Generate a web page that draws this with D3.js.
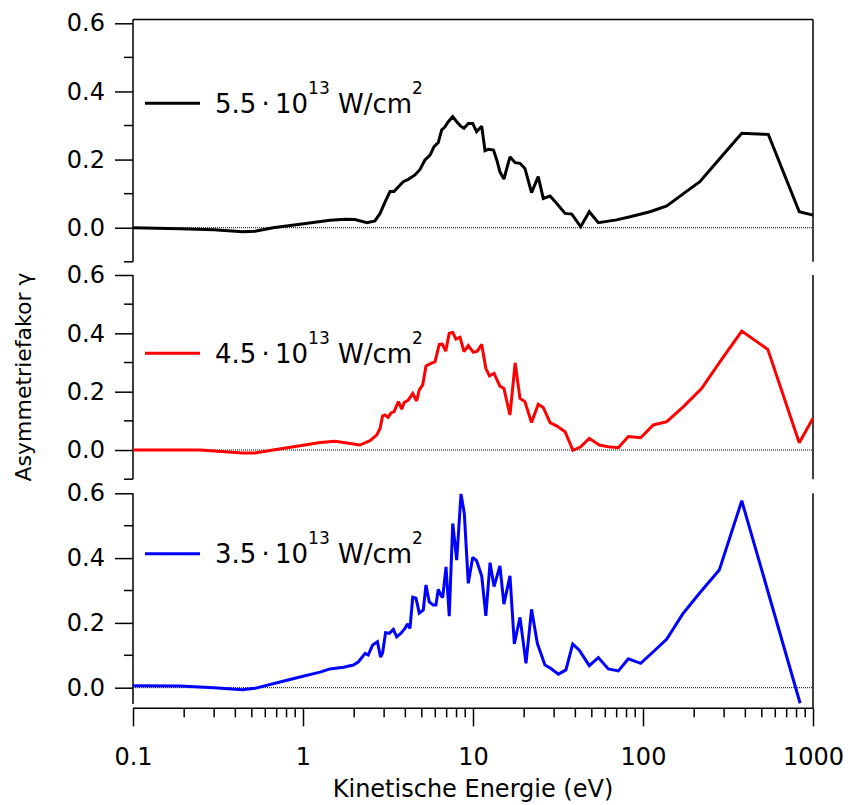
<!DOCTYPE html>
<html>
<head>
<meta charset="utf-8">
<script src="https://cdn.jsdelivr.net/npm/d3@7"></script>
<style>
  html, body { margin: 0; padding: 0; background: #fff; }
  svg { display: block; font-family: "DejaVu Sans", sans-serif; }
</style>
</head>
<body>
<svg id="chart" width="850" height="805"></svg>
<script>
// ---------- data: [kinetic energy (eV), asymmetry gamma] ----------
const series55 = [
  [0.1,0],[0.189,-0.003],[0.30,-0.006],[0.44,-0.012],[0.522,-0.01],[0.666,0],[0.96,0.01],
  [1.44,0.022],[1.77,0.025],[2.02,0.024],[2.38,0.015],[2.65,0.02],[2.84,0.042],[3.04,0.076],
  [3.25,0.106],[3.43,0.106],[3.64,0.12],[3.89,0.135],[4.16,0.142],[4.56,0.155],[4.88,0.171],
  [5.22,0.199],[5.59,0.213],[5.90,0.238],[6.25,0.25],[6.54,0.287],[6.84,0.296],[7.16,0.311],
  [7.60,0.326],[8.02,0.311],[8.47,0.298],[8.85,0.292],[9.38,0.306],[9.96,0.306],[10.5,0.282],
  [11.25,0.298],[11.77,0.226],[12.3,0.23],[13.2,0.228],[13.8,0.199],[14.4,0.164],[15.2,0.143],
  [16.5,0.208],[17.7,0.191],[18.9,0.189],[20.2,0.174],[21.1,0.14],[22.1,0.103],[24.2,0.15],
  [25.9,0.086],[28.4,0.093],[31.0,0.072],[34.8,0.042],[38.1,0.04],[43.0,0.003],[48.3,0.047],
  [54.6,0.015],[70.0,0.023],[83.9,0.032],[110,0.047],[138,0.064],[173,0.1],[216,0.135],
  [284,0.204],[381,0.277],[546,0.274],[830,0.047],[1000,0.037]
];
const series45 = [
  [0.1,0],[0.248,0],[0.44,-0.01],[0.522,-0.01],[0.666,0],[0.96,0.015],[1.26,0.026],[1.54,0.03],
  [1.77,0.025],[2.16,0.017],[2.48,0.032],[2.71,0.051],[2.84,0.074],[2.94,0.117],[3.04,0.12],
  [3.17,0.112],[3.30,0.128],[3.43,0.131],[3.64,0.166],[3.81,0.14],[3.93,0.162],[4.16,0.171],
  [4.42,0.194],[4.66,0.168],[4.83,0.206],[5.06,0.223],[5.29,0.288],[5.59,0.295],[5.98,0.303],
  [6.33,0.362],[6.60,0.363],[6.91,0.339],[7.25,0.4],[7.60,0.403],[7.94,0.38],[8.39,0.386],
  [8.85,0.337],[9.38,0.358],[10.05,0.335],[10.6,0.339],[11.25,0.362],[11.9,0.28],[12.5,0.254],
  [13.3,0.263],[14.4,0.219],[15.2,0.211],[16.5,0.12],[17.7,0.299],[18.9,0.177],[20.2,0.166],
  [22.1,0.094],[24.2,0.157],[25.9,0.146],[28.4,0.094],[31.0,0.083],[34.8,0.063],[38.7,-0.001],
  [43.0,0.011],[48.3,0.04],[55.3,0.017],[62.5,0.011],[71.6,0.008],[82.0,0.046],[96.9,0.042],
  [115,0.086],[138,0.097],[173,0.149],[221,0.211],[284,0.303],[381,0.408],[542,0.345],
  [830,0.025],[1000,0.109]
];
const series35 = [
  [0.1,0.006],[0.189,0.005],[0.30,0.0],[0.44,-0.006],[0.522,-0.002],[0.666,0.012],[0.96,0.033],
  [1.26,0.048],[1.44,0.058],[1.73,0.063],[1.98,0.07],[2.12,0.08],[2.32,0.106],[2.42,0.101],
  [2.57,0.132],[2.74,0.142],[2.86,0.094],[2.94,0.108],[3.06,0.17],[3.22,0.168],[3.40,0.18],
  [3.56,0.157],[3.77,0.168],[3.98,0.183],[4.11,0.197],[4.26,0.183],[4.42,0.279],[4.62,0.276],
  [4.83,0.23],[5.10,0.24],[5.29,0.317],[5.53,0.265],[5.84,0.255],[6.05,0.255],[6.25,0.304],
  [6.46,0.286],[6.63,0.278],[6.94,0.373],[7.25,0.221],[7.60,0.507],[8.02,0.394],[8.50,0.598],
  [8.89,0.538],[9.38,0.322],[9.96,0.402],[10.5,0.392],[11.25,0.345],[11.9,0.222],[12.6,0.386],
  [13.3,0.312],[14.4,0.376],[15.2,0.258],[16.5,0.345],[17.5,0.135],[18.9,0.217],[20.5,0.075],
  [22.1,0.242],[23.9,0.137],[26.5,0.07],[28.6,0.06],[31.8,0.042],[35.2,0.055],[38.6,0.135],
  [42.2,0.116],[48.3,0.068],[54.6,0.093],[62.5,0.058],[71.6,0.052],[82.0,0.089],[96.9,0.075],
  [115,0.111],[138,0.15],[171,0.227],[216,0.293],[281,0.363],[381,0.577],[840,-0.048]
];
const legendMantissa = ["5.5", "4.5", "3.5"];
const seriesColors = ["#000000", "#ff0000", "#0000ff"];
const yMajorTicks = [0, 0.2, 0.4, 0.6];
const yMinorTicks = [-0.1, 0.1, 0.3, 0.5];
const xMajorTicks = [0.1, 1, 10, 100, 1000];
const xTickLabels = ["0.1", "1", "10", "100", "1000"];
const xTitle = "Kinetische Energie (eV)";
const yTitle = "Asymmetriefakor \u03b3";

// ---------- layout ----------
const svg = d3.select("#chart");
const X0 = 133, X1 = 813;
const x = d3.scaleLog().domain([0.1, 1000]).range([X0, X1]);

const panels = [
  { data: series55, domain: [-0.1, 0.6], range: [261.8, 23.3], top: 19.5, legendY: 103.3 },
  { data: series45, domain: [-0.1, 0.6], range: [479.2, 275.0], top: 275.0, legendY: 353.3 },
  { data: series35, domain: [-0.05, 0.6], range: [703.9, 493.3], top: 493.3, legendY: 553.7 }
];

panels.forEach((p, i) => {
  const y = d3.scaleLinear().domain(p.domain).range(p.range);
  const g = svg.append("g");
  const bottom = p.range[0];

  // zero dotted line
  g.append("line")
    .attr("x1", X0).attr("x2", X1)
    .attr("y1", y(0)).attr("y2", y(0))
    .attr("stroke", "#000").attr("stroke-width", 1)
    .attr("stroke-dasharray", "1,1");

  // left axis line
  g.append("line").attr("x1", X0).attr("x2", X0)
    .attr("y1", p.top).attr("y2", bottom)
    .attr("stroke", "#000").attr("stroke-width", 1.5);
  // right frame line
  g.append("line").attr("x1", X1).attr("x2", X1)
    .attr("y1", p.top).attr("y2", i === 2 ? 708.3 : bottom)
    .attr("stroke", "#000").attr("stroke-width", 1.5);
  if (i === 0) {
    g.append("line").attr("x1", X0).attr("x2", X1)
      .attr("y1", p.top).attr("y2", p.top)
      .attr("stroke", "#000").attr("stroke-width", 1.5);
  }

  // major ticks + labels
  const yAxis = d3.axisLeft(y).tickValues(yMajorTicks)
    .tickSize(18).tickPadding(10).tickFormat(d3.format(".1f"));
  const ag = g.append("g").attr("transform", `translate(${X0},0)`).call(yAxis);
  ag.select(".domain").remove();
  ag.selectAll(".tick line").attr("stroke", "#000").attr("stroke-width", 1.5);
  ag.selectAll(".tick text").attr("font-size", 24).attr("fill", "#000")
    .attr("font-family", "DejaVu Sans, sans-serif");
  // minor ticks
  const minors = yMinorTicks.filter(v => v >= p.domain[0] && v <= p.domain[1]);
  g.selectAll(".minor").data(minors).enter().append("line")
    .attr("x1", X0 - 9).attr("x2", X0)
    .attr("y1", d => y(d)).attr("y2", d => y(d))
    .attr("stroke", "#000").attr("stroke-width", 1.5);

  // data line
  const line = d3.line().x(d => x(d[0])).y(d => y(d[1]));
  g.append("path").datum(p.data)
    .attr("d", line).attr("fill", "none")
    .attr("stroke", seriesColors[i]).attr("stroke-width", 3)
    .attr("stroke-linejoin", "miter").attr("stroke-miterlimit", 2);

  // legend
  g.append("line").attr("x1", 145).attr("x2", 200)
    .attr("y1", p.legendY).attr("y2", p.legendY)
    .attr("stroke", seriesColors[i]).attr("stroke-width", 3);
  const t = g.append("text").attr("x", 215).attr("y", p.legendY + 9.5)
    .attr("font-size", 26).attr("fill", "#000");
  t.append("tspan").text(legendMantissa[i] + "\u2009\u00b7\u200910");
  t.append("tspan").attr("font-size", 17).attr("dy", -19).text("13");
  t.append("tspan").attr("dy", 19).text(" W/cm");
  t.append("tspan").attr("font-size", 17).attr("dy", -19).text("2");
});

// x axis
const xg = svg.append("g");
const xAxisY = 708.3;
xg.append("line").attr("x1", X0).attr("x2", X1).attr("y1", xAxisY).attr("y2", xAxisY)
  .attr("stroke", "#000").attr("stroke-width", 1.5);
const xAxis = d3.axisBottom(x).tickValues(xMajorTicks).tickSize(18).tickPadding(22)
  .tickFormat((d, i) => xTickLabels[i]);
const xa = xg.append("g").attr("transform", `translate(0,${xAxisY})`).call(xAxis);
xa.select(".domain").remove();
xa.selectAll(".tick line").attr("stroke", "#000").attr("stroke-width", 1.5);
xa.selectAll(".tick text").attr("font-size", 24).attr("fill", "#000")
  .attr("font-family", "DejaVu Sans, sans-serif");
const xMinor = [];
[0.1, 1, 10, 100].forEach(dec => { for (let k = 2; k <= 9; k++) xMinor.push(dec * k); });
xg.selectAll(".xminor").data(xMinor).enter().append("line")
  .attr("x1", d => x(d)).attr("x2", d => x(d))
  .attr("y1", xAxisY).attr("y2", xAxisY + 9)
  .attr("stroke", "#000").attr("stroke-width", 1.5);

// titles
svg.append("text").attr("x", 473).attr("y", 797).attr("text-anchor", "middle")
  .attr("font-size", 24).attr("fill", "#000").text(xTitle);
svg.append("text").attr("transform", "translate(31,377) rotate(-90)")
  .attr("text-anchor", "middle").attr("font-size", 22).attr("fill", "#000").text(yTitle);
</script>
</body>
</html>
